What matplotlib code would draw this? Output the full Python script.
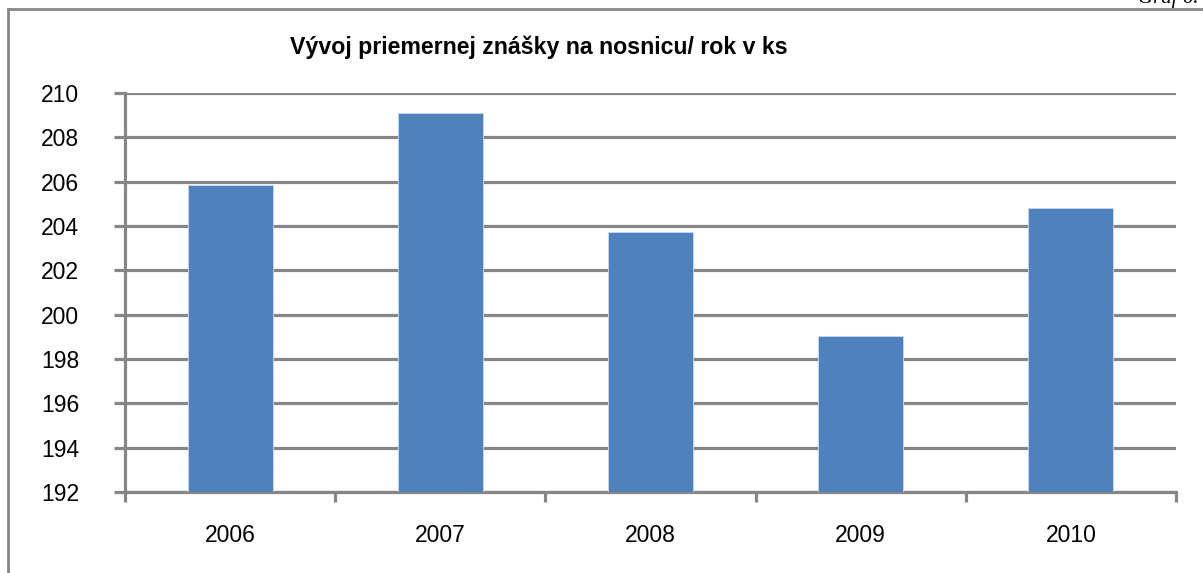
import numpy as np
import matplotlib
matplotlib.use("Agg")
import matplotlib.pyplot as plt
from matplotlib.lines import Line2D

# data
years = ["2006", "2007", "2008", "2009", "2010"]
eggs  = [205.85, 209.1, 203.75, 199.05, 204.8]
yticks = [192, 194, 196, 198, 200, 202, 204, 206, 208, 210]

plt.rcParams["font.family"] = ["Liberation Sans", "DejaVu Sans"]

W, H = 1203, 573
fig = plt.figure(figsize=(W / 100, H / 100), dpi=100)

grey = "#868686"
blue = "#4F81BD"

ax = fig.add_axes([125 / W, 1 - 492 / H, (1176 - 125) / W, (492 - 93) / H])

x = np.arange(len(years))
ax.bar(x, eggs, width=0.405, color=blue, edgecolor="#C6D9F1",
       linewidth=0.6, zorder=3)

ax.set_xlim(-0.5, len(years) - 0.5)
ax.set_ylim(yticks[0], yticks[-1])
ax.set_yticks(yticks)
ax.set_yticklabels([str(v) for v in yticks])
ax.yaxis.grid(True, color=grey, linewidth=2.3, zorder=1)
ax.set_axisbelow(True)

# category boundaries as x ticks, labels in between
ax.set_xticks(np.arange(-0.5, len(years) + 0.5, 1.0))
ax.set_xticklabels([""] * (len(years) + 1))
ax.set_xticks(x, minor=True)
ax.set_xticklabels(years, minor=True)
ax.tick_params(axis="x", which="minor", length=0, pad=23, labelsize=16.5)
ax.tick_params(axis="x", which="major", length=7, width=2.3, color=grey)
ax.tick_params(axis="y", length=8, width=2.3, color=grey, pad=25, labelsize=16.5)

for s in ["top", "right"]:
    ax.spines[s].set_visible(False)
ax.spines["left"].set_color(grey)
ax.spines["left"].set_linewidth(2.3)
ax.spines["bottom"].set_color(grey)
ax.spines["bottom"].set_linewidth(2.3)

fig.text(290 / W, 1 - 47 / H, "Vývoj priemernej znášky na nosnicu/ rok v ks",
         fontsize=16.7, fontweight="bold", ha="left", va="center")

# outer frame of the chart object
fig.add_artist(Line2D([8 / W, 8 / W], [0, 1 - 9 / H], transform=fig.transFigure,
                      color=grey, linewidth=2))
fig.add_artist(Line2D([8 / W, 1], [1 - 9 / H, 1 - 9 / H], transform=fig.transFigure,
                      color=grey, linewidth=2))

# page caption, cut off at the top edge as in the source page
fig.text(1198 / W, 1 - 3 / H, "Graf 6.", fontsize=15, family="Liberation Serif",
         style="italic", ha="right", va="baseline")

fig.savefig("out.png", dpi=100)
